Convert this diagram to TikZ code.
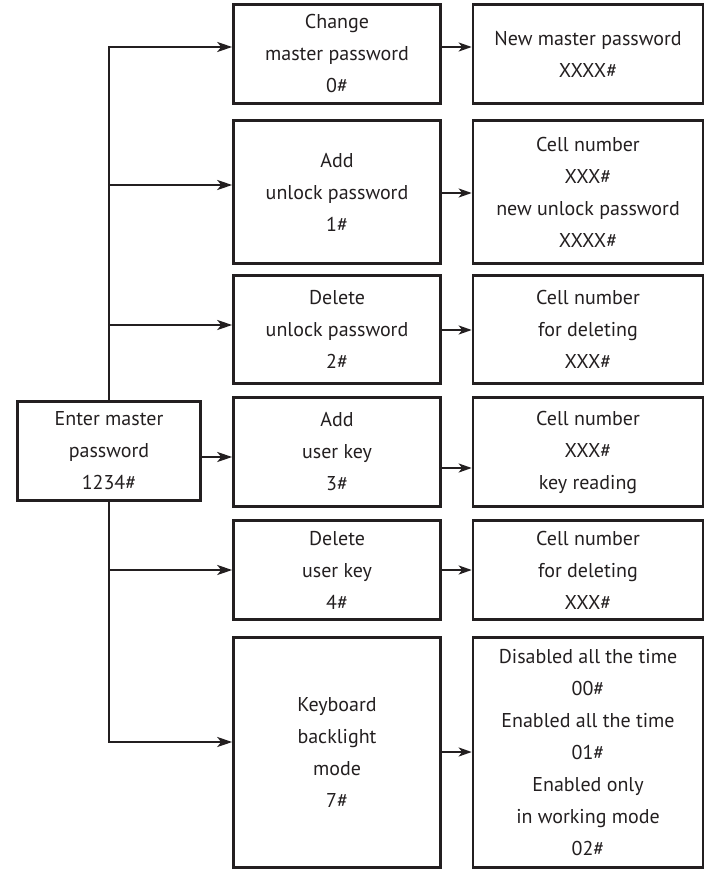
\documentclass[tikz,border=0pt]{standalone}
\usepackage{fontspec}
\setmainfont{PT Sans}
\usetikzlibrary{arrows.meta}
\definecolor{ink}{HTML}{231F20}
\begin{document}
\begin{tikzpicture}[x=1pt,y=-1pt,
  box/.style={draw=ink,line width=2.6pt,rectangle,inner sep=0pt,align=center,
    text=ink,font=\fontsize{20}{32}\selectfont},
  mid/.style={box,minimum width=207pt},
  rgt/.style={box,minimum width=230pt},
  arr/.style={draw=ink,line width=2.2pt,-{Stealth[length=15pt,width=10pt,inset=4pt]}},
  sarr/.style={draw=ink,line width=2.2pt,-{Stealth[length=13pt,width=9pt,inset=3.5pt]}}]
\useasboundingbox (0,0) rectangle (705,869);
% left
\node[box,minimum width=183pt,minimum height=99pt] (L) at (109,451) {Enter master\\password\\1234\#};
% middle column
\node[mid,minimum height=99pt] (M1) at (337,54) {Change\\master password\\0\#};
\node[mid,minimum height=143pt] (M2) at (337,192) {Add\\unlock password\\1\#};
\node[mid,minimum height=108pt] (M3) at (337,329.5) {Delete\\unlock password\\2\#};
\node[mid,minimum height=109pt] (M4) at (337,452) {Add\\user key\\3\#};
\node[mid,minimum height=99pt] (M5) at (337,570) {Delete\\user key\\4\#};
\node[mid,minimum height=230pt] (M6) at (337,752.5) {Keyboard\\backlight\\mode\\7\#};
% right column
\node[rgt,minimum height=99pt] (R1) at (588,54) {New master password\\XXXX\#};
\node[rgt,minimum height=143pt] (R2) at (588,192) {Cell number\\XXX\#\\new unlock password\\XXXX\#};
\node[rgt,minimum height=108pt] (R3) at (588,329.5) {Cell number\\for deleting\\XXX\#};
\node[rgt,minimum height=109pt] (R4) at (588,452) {Cell number\\XXX\#\\key reading};
\node[rgt,minimum height=99pt] (R5) at (588,570) {Cell number\\for deleting\\XXX\#};
\node[rgt,minimum height=230pt] (R6) at (588,752.5) {Disabled all the time\\00\#\\Enabled all the time\\01\#\\Enabled only\\in working mode\\02\#};
% trunk and branches
\draw[arr] (L.north) |- ([yshift=7pt]M1.west);
\draw[arr] ([yshift=7pt]M2.west -| L.north) -- ([yshift=7pt]M2.west);
\draw[arr] ([yshift=4.5pt]M3.west -| L.north) -- ([yshift=4.5pt]M3.west);
\draw[arr] ([yshift=-6pt]L.east) -- ([yshift=-6pt]L.east -| M4.west);
\draw[arr] (M5.west -| L.south) -- (M5.west);
\draw[arr] (L.south) |- ([yshift=10.5pt]M6.west);
% middle to right
\draw[sarr] ([yshift=7pt]M1.east) -- ([yshift=7pt]M1.east -| R1.west);
\draw[sarr] ([yshift=-1pt]M2.east) -- ([yshift=-1pt]M2.east -| R2.west);
\draw[sarr] ([yshift=-0.5pt]M3.east) -- ([yshift=-0.5pt]M3.east -| R3.west);
\draw[sarr] ([yshift=-16pt]M4.east) -- ([yshift=-16pt]M4.east -| R4.west);
\draw[sarr] (M5.east) -- (M5.east -| R5.west);
\draw[sarr] ([yshift=0.5pt]M6.east) -- ([yshift=0.5pt]M6.east -| R6.west);
\end{tikzpicture}
\end{document}
